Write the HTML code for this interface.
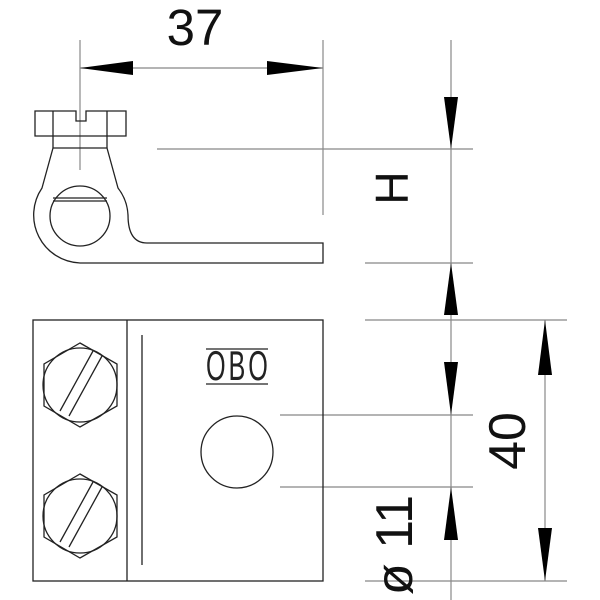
<!DOCTYPE html>
<html><head><style>html,body{margin:0;padding:0;background:#fff}svg{display:block}</style></head>
<body>
<svg width="600" height="600" viewBox="0 0 600 600" xmlns="http://www.w3.org/2000/svg" font-family="Liberation Sans, sans-serif">
<g stroke="#888" stroke-width="1.2" fill="none">
<line x1="80" y1="40" x2="80" y2="170"/>
<line x1="323" y1="40" x2="323" y2="215"/>
<line x1="80" y1="68" x2="323" y2="68"/>
<line x1="157" y1="149" x2="473" y2="149"/>
<line x1="365" y1="263" x2="473" y2="263"/>
<line x1="365" y1="320" x2="567" y2="320"/>
<line x1="280" y1="415" x2="473" y2="415"/>
<line x1="280" y1="487" x2="473" y2="487"/>
<line x1="365" y1="581" x2="567" y2="581"/>
<line x1="451" y1="40" x2="451" y2="600"/>
<line x1="545" y1="320" x2="545" y2="581"/>
</g>
<g fill="#000">
<polygon points="80,68 133,61 133,75"/>
<polygon points="323,68 267,61 267,75"/>
<polygon points="451,149 444,97 458,97"/>
<polygon points="451,263 444,315 458,315"/>
<polygon points="451,415 444,362 458,362"/>
<polygon points="451,487 444,540 458,540"/>
<polygon points="545,320 538,375 552,375"/>
<polygon points="545,581 538,528 552,528"/>
</g>
<g stroke="#222" stroke-width="1.3" fill="none">
<path d="M35,111 L76,111 L76,121 L86,121 L86,111 L126,111 L126,136 L35,136 Z"/>
<line x1="53" y1="111" x2="53" y2="148"/><line x1="107" y1="111" x2="107" y2="148"/>
<path d="M42,188 A48,48 0 0 0 80,263 L323,263 L323,243 L147,243 Q128,243 128,215 A48,48 0 0 0 118,188 L107,148 L53,148 Z"/>
<circle cx="80" cy="216" r="30"/>
<line x1="53" y1="198" x2="107" y2="198"/><line x1="53" y1="201" x2="107" y2="201"/>
<rect x="33" y="320" width="290" height="261"/>
<line x1="127" y1="320" x2="127" y2="581"/>
<line x1="142" y1="335" x2="142" y2="565"/>
<circle cx="237" cy="452" r="36"/>
<line x1="206" y1="349" x2="268" y2="349"/><line x1="206" y1="384" x2="268" y2="384"/>
<polygon points="80,343 117,364 117,406 80,427 44,406 44,364"/>
<circle cx="80" cy="385" r="37"/>
<line x1="93" y1="351" x2="60" y2="411"/><line x1="102" y1="356" x2="69" y2="416"/>
<polygon points="80,474 117,495 117,537 80,558 44,537 44,495"/>
<circle cx="80" cy="516" r="37"/>
<line x1="93" y1="482" x2="60" y2="542"/><line x1="102" y1="487" x2="69" y2="547"/>
</g>
<text transform="translate(206,380) scale(0.6,1)" font-size="42" fill="#222" textLength="103" lengthAdjust="spacing">OBO</text>
<text x="195" y="45" font-size="51" text-anchor="middle" fill="#111">37</text>
<text transform="translate(408,188) rotate(-90)" font-size="46" text-anchor="middle" fill="#111">H</text>
<text transform="translate(525,441) rotate(-90)" font-size="52" text-anchor="middle" fill="#111">40</text>
<text transform="translate(412,545) rotate(-90)" font-size="52" text-anchor="middle" fill="#111">ø 11</text>
</svg>
</body></html>
